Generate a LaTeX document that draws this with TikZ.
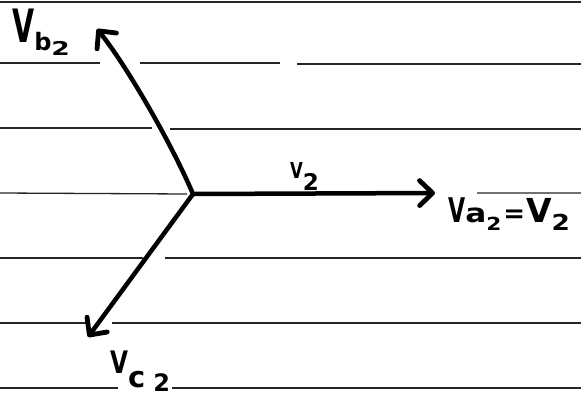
\documentclass[tikz,border=0pt]{standalone}
\usepackage{fontspec}
\setmainfont{DejaVu Sans}
\usetikzlibrary{arrows.meta}
\newcommand\fsz[1]{\fontsize{#1}{#1}\selectfont}
\begin{document}
\begin{tikzpicture}[x=1pt,y=-1pt,
  rule/.style={line width=1.3pt, black!85},
  phasor/.style={line width=4.5pt, line cap=round,
    -{Straight Barb[length=13pt,width=25pt,line width=4.8pt,round]}},
  lab/.style={inner sep=0pt, anchor=base west, font=\bfseries}]
\useasboundingbox (0,0) rectangle (581,397);
\fill[white] (0,0) rectangle (581,397);
% ruled lines of the paper
\draw[rule] (0,2) -- (581,2);
\draw[rule] (0,63) -- (100,63) (140,63) -- (280,63) (297,64) -- (581,64);
\draw[rule] (0,128) -- (152,128) (170,129) -- (581,129);
\draw[rule] (0,193) -- (187,194) (477,193) -- (581,193);
\draw[rule] (0,258) -- (143,258) (165,258) -- (581,258);
\draw[rule] (0,323) -- (86,323) (112,323) -- (581,323);
\draw[rule] (0,388) -- (118,388) (172,388) -- (581,388);
% phasors
\coordinate (O) at (193,194);
\coordinate (A) at (435,193);
\coordinate (B) at (97,29);
\coordinate (C) at (88,337);
\draw[phasor] (O) -- (A);
\draw[phasor] (O) .. controls (170,140) and (124,62) .. (B);
\draw[phasor] (O) -- (C);
% labels
\node[lab] (vb) at (12,42) {{\fsz{46}\scalebox{0.62}[1]{V}}\raisebox{-8pt}{\fsz{24}b}\raisebox{-13pt}{\scalebox{1.4}[1]{\fsz{19}2}}};
\node[lab] (v2) at (290,178) {{\fsz{22}\scalebox{0.75}[1]{V}}\raisebox{-12pt}{\fsz{23}2}};
\node[lab] (va) at (448,222) {{\fsz{34}\scalebox{0.65}[1]{V}}\scalebox{1.2}[1]{\fsz{26}a}\raisebox{-8pt}{\scalebox{1.2}[1]{\fsz{18}2}}\hspace{2pt}{\fsz{26}=}\hspace{1pt}{\fsz{33}V}\raisebox{-8pt}{\scalebox{1.2}[1]{\fsz{22}2}}};
\node[lab] (vc) at (110,373) {{\fsz{31}\scalebox{0.75}[1]{V}}\raisebox{-14pt}{\fsz{29}c}\hspace{8pt}\raisebox{-18pt}{\fsz{24}2}};
\end{tikzpicture}
\end{document}
